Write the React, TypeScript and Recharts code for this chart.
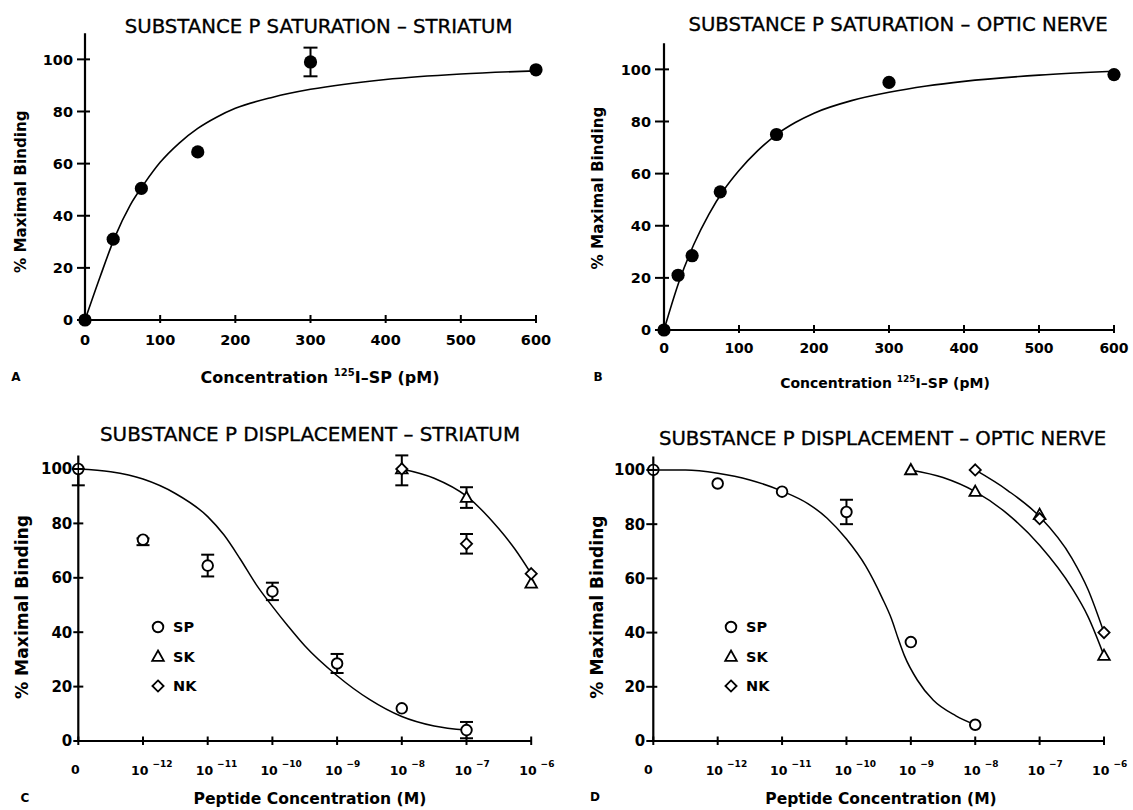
import React from 'react';
import { ComposedChart, Line, Scatter, XAxis, YAxis, ErrorBar, Legend } from 'recharts';

const FONT = '"DejaVu Sans", "Liberation Sans", sans-serif';

// ---------- Panel A: saturation, striatum ----------
const striatumConc = [0, 37.5, 75, 150, 300, 600];
const striatumBinding = [0, 31, 50.5, 64.5, 99, 96];
const striatumErrLow = [0, 0, 0, 0, 5.5, 0];
const striatumErrHigh = [0, 0, 0, 0, 5.5, 0];
const striatumFitConc = [0, 20, 40, 60, 80, 100, 125, 150, 175, 200, 250, 300, 400, 500, 600];
const striatumFitBinding = [0, 16.5, 32, 44, 52.8, 60.5, 67.8, 73.5, 77.8, 81.2, 85.5, 88.5, 92.3, 94.4, 95.6];

// ---------- Panel B: saturation, optic nerve ----------
const opticConc = [0, 18.75, 37.5, 75, 150, 300, 600];
const opticBinding = [0, 21, 28.5, 53, 75, 95, 98];
const opticFitConc = [0, 20, 40, 60, 80, 100, 125, 150, 175, 200, 250, 300, 350, 400, 500, 600];
const opticFitBinding = [0, 18.5, 33, 44.5, 53.8, 61.2, 68.8, 75, 79.6, 83.2, 88, 91.2, 93.6, 95.4, 97.8, 99.3];

const concTicks = [0, 100, 200, 300, 400, 500, 600];
const satYTicks = [0, 20, 40, 60, 80, 100];

// ---------- Panels C & D: displacement (x = decade index; 0 = none, 1 = 10^-12 ... 7 = 10^-6) ----------
const decadeIndex = [0, 1, 2, 3, 4, 5, 6, 7];
const decadeExponents = ['', '−12', '−11', '−10', '−9', '−8', '−7', '−6'];
const dispYTicks = [0, 20, 40, 60, 80, 100];
const legendLabels = ['SP', 'SK', 'NK'];

// C: striatum
const cSpDose = [0, 1, 2, 3, 4, 5, 6];
const cSpBinding = [100, 74, 64.5, 55, 28.5, 12, 4];
const cSpErrLow = [6, 2, 4, 3.2, 3.5, 0, 3];
const cSpErrHigh = [0, 0.5, 4, 3.2, 3.5, 0, 3];
const cSkDose = [5, 6, 7];
const cSkBinding = [100, 89.5, 58];
const cSkErrLow = [6, 3.8, 0];
const cSkErrHigh = [5, 3.8, 0];
const cNkDose = [5, 6, 7];
const cNkBinding = [100, 72.5, 61.5];
const cNkErrLow = [0, 3.6, 0];
const cNkErrHigh = [0, 3.6, 0];
const cSpFitDose = [0, 0.5, 1, 1.5, 2, 2.25, 2.5, 2.75, 3, 3.25, 3.5, 4, 4.5, 5, 5.5, 6];
const cSpFitBinding = [100, 99, 96.3, 91, 82.5, 75.8, 67, 57.5, 49.5, 42, 35, 24, 15.3, 9, 5.5, 4];
const cSkFitDose = [5, 5.5, 6, 6.5, 6.75, 7];
const cSkFitBinding = [100, 96.6, 90, 78, 70.5, 61.5];

// D: optic nerve
const dSpDose = [0, 1, 2, 3, 4, 5];
const dSpBinding = [100, 95, 92, 84.5, 36.5, 6];
const dSpErrLow = [0, 0, 0, 4.5, 0, 0];
const dSpErrHigh = [0, 0, 0, 4.5, 0, 0];
const dSkDose = [4, 5, 6, 7];
const dSkBinding = [100, 92, 83.5, 31.5];
const dNkDose = [5, 6, 7];
const dNkBinding = [100, 82, 40];
const dSpFitDose = [0, 0.5, 1, 1.5, 2, 2.4, 2.7, 3, 3.3, 3.55, 3.7, 3.8, 3.9, 4.1, 4.35, 4.7, 5];
const dSpFitBinding = [100, 100, 98.8, 96.3, 92.2, 87.6, 82.2, 74.5, 64.5, 53, 45, 38, 31.5, 22.5, 15, 9.3, 6];
const dSkFitDose = [4, 4.5, 5, 5.5, 6, 6.5, 6.75, 7];
const dSkFitBinding = [100, 97.2, 92, 83.8, 72.2, 56.5, 46, 31.5];
const dNkFitDose = [5, 5.5, 6, 6.5, 6.75, 7];
const dNkFitBinding = [100, 92.5, 82.8, 67.5, 56, 40];

type Pt = { x: number; y: number; err: number[] };
const pts = (xs: number[], ys: number[], lo?: number[], hi?: number[]): Pt[] =>
  xs.map((x, i) => ({ x, y: ys[i], err: [lo ? lo[i] : 0, hi ? hi[i] : 0] }));
const withErr = (arr: Pt[]) => arr.filter((d) => d.err[0] > 0 || d.err[1] > 0);

// ---------- shapes ----------
const FilledDot = (p: any) => <circle cx={p.cx} cy={p.cy} r={6.6} fill="#000" />;
const Empty = () => <g />;
const OpenCircle = (p: any) => {
  const { cx, cy, payload } = p;
  const r = 5.3;
  if (payload && payload.x === 0) {
    return (
      <g>
        <circle cx={cx} cy={cy} r={r} fill="#fff" stroke="#000" strokeWidth={1.8} />
        <line x1={cx - r} x2={cx + r} y1={cy} y2={cy} stroke="#000" strokeWidth={1.5} />
        <line x1={cx} x2={cx} y1={cy - r} y2={cy + r} stroke="#000" strokeWidth={1.5} />
      </g>
    );
  }
  return <circle cx={cx} cy={cy} r={r} fill="#fff" stroke="#000" strokeWidth={1.9} />;
};
const Triangle = (p: any) => {
  const { cx, cy } = p;
  return (
    <polygon
      points={`${cx},${cy - 6} ${cx + 5.8},${cy + 4.3} ${cx - 5.8},${cy + 4.3}`}
      fill="#fff"
      stroke="#000"
      strokeWidth={1.8}
    />
  );
};
const Diamond = (p: any) => {
  const { cx, cy } = p;
  const h = 5.6;
  return (
    <polygon
      points={`${cx},${cy - h} ${cx + h},${cy} ${cx},${cy + h} ${cx - h},${cy}`}
      fill="#fff"
      stroke="#000"
      strokeWidth={1.8}
    />
  );
};

// ---------- ticks ----------
const makeYTick = (left: number, right: number, gap: number, fs: number) => (p: any) => {
  const { x, y, payload } = p;
  return (
    <g>
      <line x1={x - left} x2={x + right} y1={y} y2={y} stroke="#000" strokeWidth={2} />
      <text x={x - gap} y={y} dy="0.36em" textAnchor="end" fontFamily={FONT} fontWeight="bold" fontSize={fs} fill="#000">
        {payload.value}
      </text>
    </g>
  );
};
const makeXTick = (up: number, down: number, off: number, fs: number) => (p: any) => {
  const { x, y, payload } = p;
  return (
    <g>
      <line x1={x} x2={x} y1={y - up} y2={y + down} stroke="#000" strokeWidth={2} />
      <text x={x} y={y + off} dy="0.36em" textAnchor="middle" fontFamily={FONT} fontWeight="bold" fontSize={fs} fill="#000">
        {payload.value}
      </text>
    </g>
  );
};
const makeDecadeTick = (zeroShift: number, tenShift: number) => (p: any) => {
  const { x, y, payload } = p;
  const i = payload.value as number;
  return (
    <g>
      <line x1={x} x2={x} y1={y - 4.5} y2={y + 4} stroke="#000" strokeWidth={2} />
      {i === 0 ? (
        <text x={x + zeroShift} y={y + 28} dy="0.36em" textAnchor="middle" fontFamily={FONT} fontWeight="bold" fontSize={12.5} fill="#000">
          0
        </text>
      ) : (
        <text x={x + tenShift} y={y + 28} dy="0.36em" textAnchor="start" fontFamily={FONT} fontWeight="bold" fill="#000">
          <tspan fontSize={12.5}>10</tspan>
          <tspan dx={4} dy={-8} fontSize={9}>
            {decadeExponents[i]}
          </tspan>
        </text>
      )}
    </g>
  );
};

const LegendBox = () => {
  const shapes = [OpenCircle, Triangle, Diamond];
  return (
    <svg width={70} height={90} style={{ overflow: 'visible' }}>
      {legendLabels.map((lab, i) => {
        const S = shapes[i];
        const cy = 10 + i * 29.5;
        return (
          <g key={lab}>
            <S cx={10} cy={cy} payload={{ x: 1 }} />
            <text x={25} y={cy} dy="0.36em" fontFamily={FONT} fontWeight="bold" fontSize={14.5} fill="#000">
              {lab}
            </text>
          </g>
        );
      })}
    </svg>
  );
};

const axisLine = { stroke: '#000', strokeWidth: 2.2 };

type SatProps = {
  left: number;
  top: number;
  width: number;
  height: number;
  margin: any;
  yWidth: number;
  xHeight: number;
  data: Pt[];
  fit: Pt[];
  yTick: any;
  xTick: any;
};

const SaturationPanel = (p: SatProps) => (
  <div style={{ position: 'absolute', left: p.left, top: p.top }}>
    <ComposedChart width={p.width} height={p.height} margin={p.margin}>
      <XAxis
        type="number"
        dataKey="x"
        domain={[0, 600]}
        ticks={concTicks}
        interval={0}
        axisLine={axisLine}
        tickLine={false}
        tickSize={0}
        tickMargin={0}
        height={p.xHeight}
        tick={p.xTick}
      />
      <YAxis
        type="number"
        dataKey="y"
        domain={[0, 110]}
        ticks={satYTicks}
        interval={0}
        axisLine={axisLine}
        tickLine={false}
        tickSize={0}
        tickMargin={0}
        width={p.yWidth}
        tick={p.yTick}
      />
      <Line data={p.fit} dataKey="y" type="monotone" stroke="#000" strokeWidth={1.6} dot={false} activeDot={false} isAnimationActive={false} />
      <Scatter data={withErr(p.data)} dataKey="y" shape={Empty} isAnimationActive={false}>
        <ErrorBar dataKey="err" direction="y" width={7} stroke="#000" strokeWidth={2} isAnimationActive={false} />
      </Scatter>
      <Scatter data={p.data} dataKey="y" shape={FilledDot} isAnimationActive={false} />
    </ComposedChart>
  </div>
);

type DispSeries = { data: Pt[]; fit?: Pt[]; shape: any };
type DispProps = {
  left: number;
  top: number;
  width: number;
  height: number;
  margin: any;
  yWidth: number;
  yTick: any;
  xTick: any;
  series: DispSeries[];
  legendPos: { left: number; top: number };
};

const DisplacementPanel = (p: DispProps) => (
  <div style={{ position: 'absolute', left: p.left, top: p.top }}>
    <ComposedChart width={p.width} height={p.height} margin={p.margin}>
      <XAxis
        type="number"
        dataKey="x"
        domain={[0, 7]}
        ticks={decadeIndex}
        interval={0}
        axisLine={axisLine}
        tickLine={false}
        tickSize={0}
        tickMargin={0}
        height={50}
        tick={p.xTick}
      />
      <YAxis
        type="number"
        dataKey="y"
        domain={[0, 105]}
        ticks={dispYTicks}
        interval={0}
        axisLine={axisLine}
        tickLine={false}
        tickSize={0}
        tickMargin={0}
        width={p.yWidth}
        tick={p.yTick}
      />
      {p.series
        .filter((s) => s.fit)
        .map((s, i) => (
          <Line
            key={'fit' + i}
            data={s.fit}
            dataKey="y"
            type="monotone"
            stroke="#000"
            strokeWidth={1.5}
            dot={false}
            activeDot={false}
            isAnimationActive={false}
            legendType="none"
          />
        ))}
      {p.series.map((s, i) =>
        withErr(s.data).length ? (
          <Scatter key={'err' + i} data={withErr(s.data)} dataKey="y" shape={Empty} isAnimationActive={false} legendType="none">
            <ErrorBar dataKey="err" direction="y" width={6.5} stroke="#000" strokeWidth={2} isAnimationActive={false} />
          </Scatter>
        ) : null
      )}
      {p.series.map((s, i) => (
        <Scatter key={'pts' + i} data={s.data} dataKey="y" shape={s.shape} isAnimationActive={false} />
      ))}
      <Legend
        layout="vertical"
        align="center"
        verticalAlign="middle"
        content={LegendBox}
        wrapperStyle={{ position: 'absolute', left: p.legendPos.left, top: p.legendPos.top, width: 70, height: 90 }}
      />
    </ComposedChart>
  </div>
);

const T = (props: any) => <text fontFamily={FONT} fill="#000" {...props} />;
const titleStyle = { stroke: '#000', strokeWidth: 0.35 };

export default function App() {
  const aData = pts(striatumConc, striatumBinding, striatumErrLow, striatumErrHigh);
  const aFit = pts(striatumFitConc, striatumFitBinding);
  const bData = pts(opticConc, opticBinding);
  const bFit = pts(opticFitConc, opticFitBinding);

  const cSeries: DispSeries[] = [
    { data: pts(cSpDose, cSpBinding, cSpErrLow, cSpErrHigh), fit: pts(cSpFitDose, cSpFitBinding), shape: OpenCircle },
    { data: pts(cSkDose, cSkBinding, cSkErrLow, cSkErrHigh), fit: pts(cSkFitDose, cSkFitBinding), shape: Triangle },
    { data: pts(cNkDose, cNkBinding, cNkErrLow, cNkErrHigh), shape: Diamond },
  ];
  const dSeries: DispSeries[] = [
    { data: pts(dSpDose, dSpBinding, dSpErrLow, dSpErrHigh), fit: pts(dSpFitDose, dSpFitBinding), shape: OpenCircle },
    { data: pts(dSkDose, dSkBinding), fit: pts(dSkFitDose, dSkFitBinding), shape: Triangle },
    { data: pts(dNkDose, dNkBinding), fit: pts(dNkFitDose, dNkFitBinding), shape: Diamond },
  ];

  return (
    <div style={{ position: 'absolute', left: 0, top: 0, width: 1133, height: 810, background: '#fff', overflow: 'hidden' }}>
      <SaturationPanel
        left={0}
        top={0}
        width={560}
        height={400}
        margin={{ top: 33.3, right: 24, bottom: 20, left: 0 }}
        yWidth={85}
        xHeight={60}
        data={aData}
        fit={aFit}
        yTick={makeYTick(8, 5, 12, 14.5)}
        xTick={makeXTick(5, 3, 20, 14.5)}
      />
      <SaturationPanel
        left={560}
        top={0}
        width={573}
        height={400}
        margin={{ top: 43.3, right: 19, bottom: 20, left: 0 }}
        yWidth={104}
        xHeight={50}
        data={bData}
        fit={bFit}
        yTick={makeYTick(9, 5, 13, 14.5)}
        xTick={makeXTick(5, 3, 18, 14)}
      />
      <DisplacementPanel
        left={0}
        top={400}
        width={560}
        height={410}
        margin={{ top: 55.4, right: 28.8, bottom: 19, left: 0 }}
        yWidth={78.3}
        yTick={makeYTick(5, 5, 6, 15)}
        xTick={makeDecadeTick(-3, -12)}
        series={cSeries}
        legendPos={{ left: 148, top: 216.5 }}
      />
      <DisplacementPanel
        left={560}
        top={400}
        width={573}
        height={410}
        margin={{ top: 56.4, right: 29, bottom: 19, left: 0 }}
        yWidth={93.3}
        yTick={makeYTick(7, 4, 8, 15)}
        xTick={makeDecadeTick(-5, -12)}
        series={dSeries}
        legendPos={{ left: 160.5, top: 217.3 }}
      />
      <svg width={1133} height={810} style={{ position: 'absolute', left: 0, top: 0, pointerEvents: 'none' }}>
        {/* titles */}
        <T x={318.6} y={33} textAnchor="middle" fontSize={19.7} {...titleStyle}>SUBSTANCE P SATURATION – STRIATUM</T>
        <T x={898} y={30.5} textAnchor="middle" fontSize={19.7} {...titleStyle}>SUBSTANCE P SATURATION – OPTIC NERVE</T>
        <T x={310} y={440.5} textAnchor="middle" fontSize={19.9} {...titleStyle}>SUBSTANCE P DISPLACEMENT – STRIATUM</T>
        <T x={882.6} y={445} textAnchor="middle" fontSize={19.7} {...titleStyle}>SUBSTANCE P DISPLACEMENT – OPTIC NERVE</T>
        {/* y-axis labels */}
        <T x={26} y={191.7} textAnchor="middle" fontSize={15.2} fontWeight="bold" transform="rotate(-90 26 191.7)">% Maximal Binding</T>
        <T x={603} y={188} textAnchor="middle" fontSize={15.2} fontWeight="bold" transform="rotate(-90 603 188)">% Maximal Binding</T>
        <T x={28} y={607} textAnchor="middle" fontSize={17.2} fontWeight="bold" transform="rotate(-90 28 607)">% Maximal Binding</T>
        <T x={603} y={607} textAnchor="middle" fontSize={17.1} fontWeight="bold" transform="rotate(-90 603 607)">% Maximal Binding</T>
        {/* x-axis labels */}
        <T x={320} y={383} textAnchor="middle" fontSize={16} fontWeight="bold">
          Concentration <tspan fontSize={10} dy={-7}>125</tspan>
          <tspan dy={7}>I–SP (pM)</tspan>
        </T>
        <T x={885} y={388} textAnchor="middle" fontSize={14} fontWeight="bold">
          Concentration <tspan fontSize={9} dy={-6}>125</tspan>
          <tspan dy={6}>I–SP (pM)</tspan>
        </T>
        <T x={310} y={804} textAnchor="middle" fontSize={15.6} fontWeight="bold">Peptide Concentration (M)</T>
        <T x={881} y={804} textAnchor="middle" fontSize={15.5} fontWeight="bold">Peptide Concentration (M)</T>
        {/* panel letters */}
        <T x={16} y={381} textAnchor="middle" fontSize={12} fontWeight="bold">A</T>
        <T x={598} y={381} textAnchor="middle" fontSize={12} fontWeight="bold">B</T>
        <T x={25} y={802} textAnchor="middle" fontSize={12} fontWeight="bold">C</T>
        <T x={595} y={801} textAnchor="middle" fontSize={12} fontWeight="bold">D</T>
      </svg>
    </div>
  );
}
